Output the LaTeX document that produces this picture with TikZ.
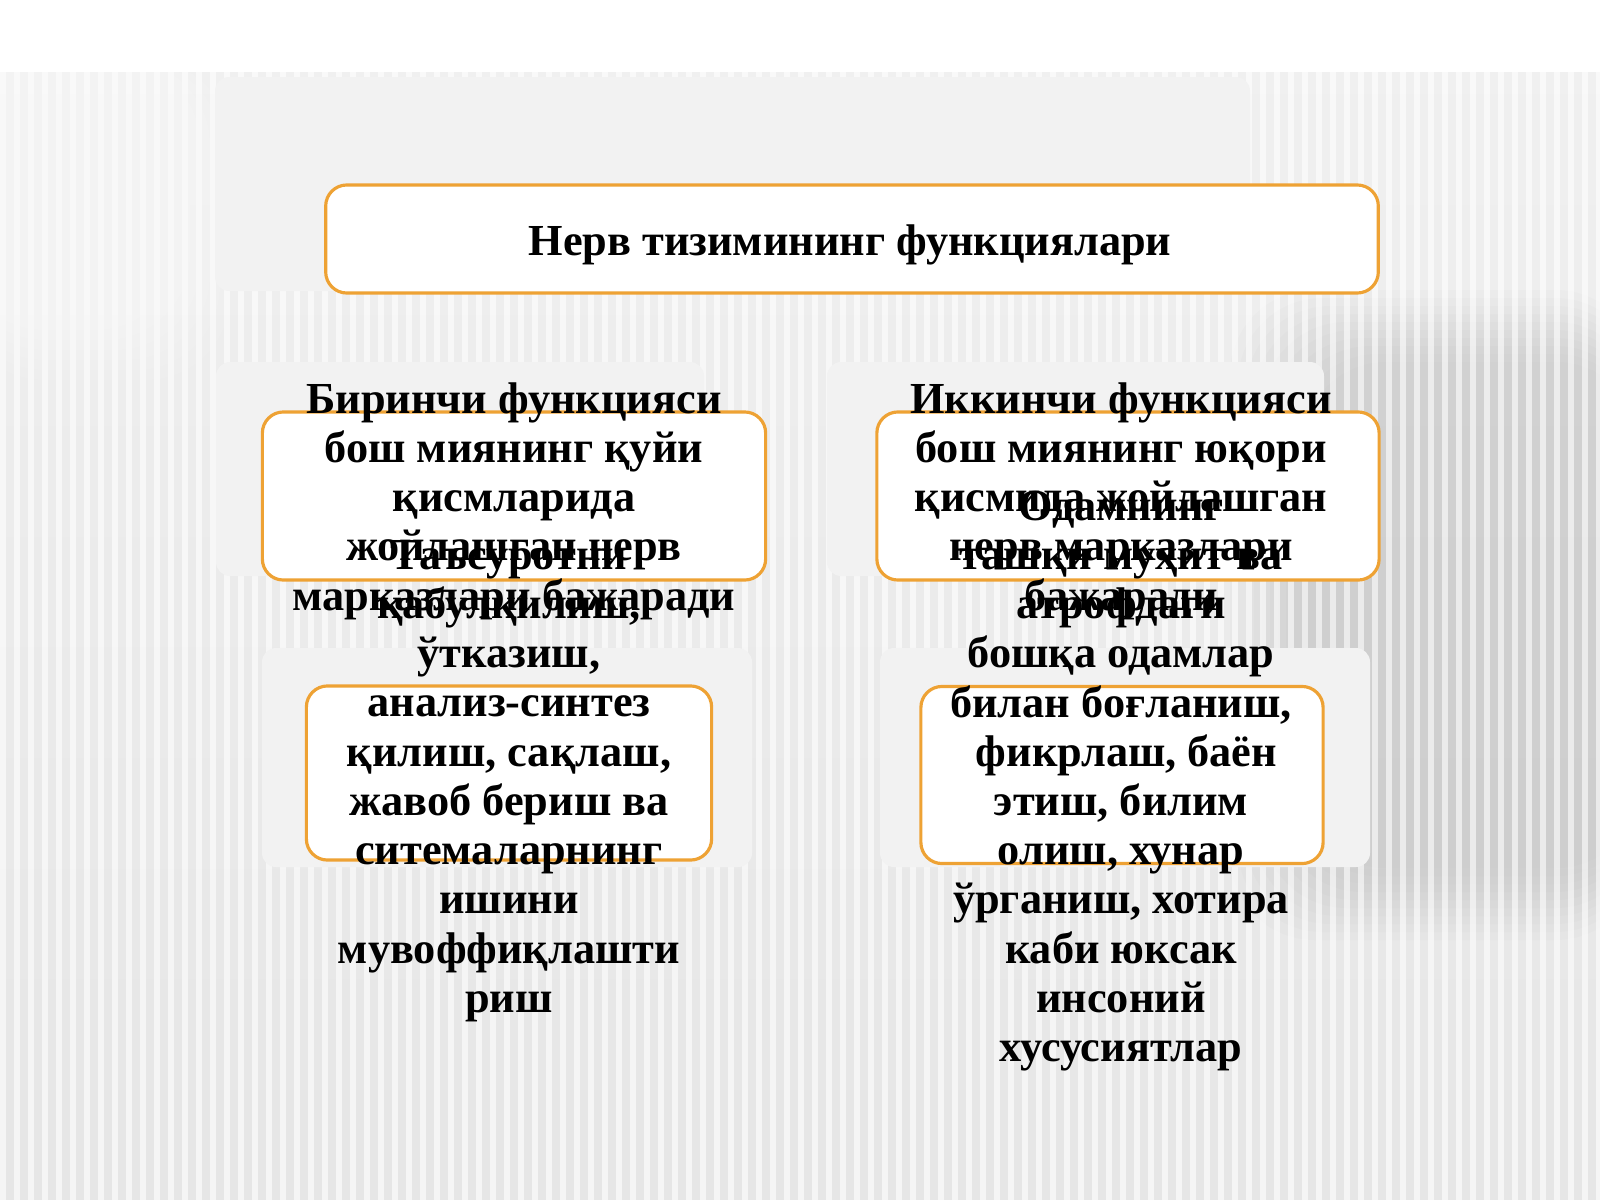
\documentclass[tikz,border=0pt]{standalone}
\usepackage{fontspec}
\setmainfont{Liberation Serif}
\definecolor{boxline}{RGB}{238,162,52}
\definecolor{panel}{RGB}{242,242,242}
\begin{document}
\begin{tikzpicture}[x=0.01cm, y=-0.01cm,
    panelbg/.style={fill=panel, rounded corners=4pt},
    fnbox/.style={draw=boxline, line width=0.9pt, fill=white, rounded corners=6pt},
    fntext/.style={align=center, font=\fontsize{12.6}{14}\selectfont\bfseries, inner sep=0pt}]
    \useasboundingbox (0,0) rectangle (1600,1200);
    % background of the slide
    \fill[top color=gray!12, bottom color=gray!20] (0,72) rectangle (1600,1200);
    \fill[white] (0,0) rectangle (1600,72);
    \foreach \d in {0,8,...,72}
        \fill[gray, opacity=.025, rounded corners=24pt] (1230+\d,290+\d) rectangle (1640,940-\d);
    \foreach \x in {0,14,...,1600}
        \fill[white, opacity=.6] (\x,72) rectangle (\x+6,1200);
    \foreach \d in {0,10,...,60}
        \fill[white, opacity=.08, rounded corners=24pt] (-40,60) rectangle (230-\d,380-\d);
    % light panels behind the boxes
    \fill[panelbg] (215,77) rectangle (1250,291);
    \fill[panelbg] (216,362) rectangle (704,576);
    \fill[panelbg] (827,362) rectangle (1324,576);
    \fill[panelbg] (262,648) rectangle (752,867);
    \fill[panelbg] (880,648) rectangle (1370,867);
    % boxes
    \node[fnbox, minimum width=10.52cm, minimum height=1.08cm] (title) at (852,239) {};
    \node[fnbox, minimum width=5.03cm, minimum height=1.68cm] (first) at (514,496) {};
    \node[fnbox, minimum width=5.02cm, minimum height=1.68cm] (second) at (1128,496) {};
    \node[fnbox, minimum width=4.05cm, minimum height=1.74cm] (firstmore) at (509,773) {};
    \node[fnbox, minimum width=4.02cm, minimum height=1.77cm] (secondmore) at (1122,775) {};
    % texts
    \node[fntext] (titletext) at (850,245) {Нерв тизимининг функциялари};
    \node[fntext] (firsttext) at (514,501) {Биринчи функцияси\\ бош миянинг қуйи\\ қисмларида\\ жойлашган нерв\\ марказлари бажаради};
    \node[fntext] (secondtext) at (1121,501) {Иккинчи функцияси\\ бош миянинг юқори\\ қисмида жойлашган\\ нерв марказлари\\ бажаради};
    \node[fntext] (firstmoretext) at (509,781) {Таъсуротни\\ қабулқилиш,\\ ўтказиш,\\ анализ-синтез\\ қилиш, сақлаш,\\ жавоб бериш ва\\ ситемаларнинг\\ ишини\\ мувоффиқлашти\\ риш};
    \node[fntext] (secondmoretext) at (1121,781) {Одамнинг\\ ташқи муҳит ва\\ атрофдаги\\ бошқа одамлар\\ билан боғланиш,\\ \ фикрлаш, баён\\ этиш, билим\\ олиш, хунар\\ ўрганиш, хотира\\ каби юксак\\ инсоний\\ хусусиятлар};
\end{tikzpicture}
\end{document}
